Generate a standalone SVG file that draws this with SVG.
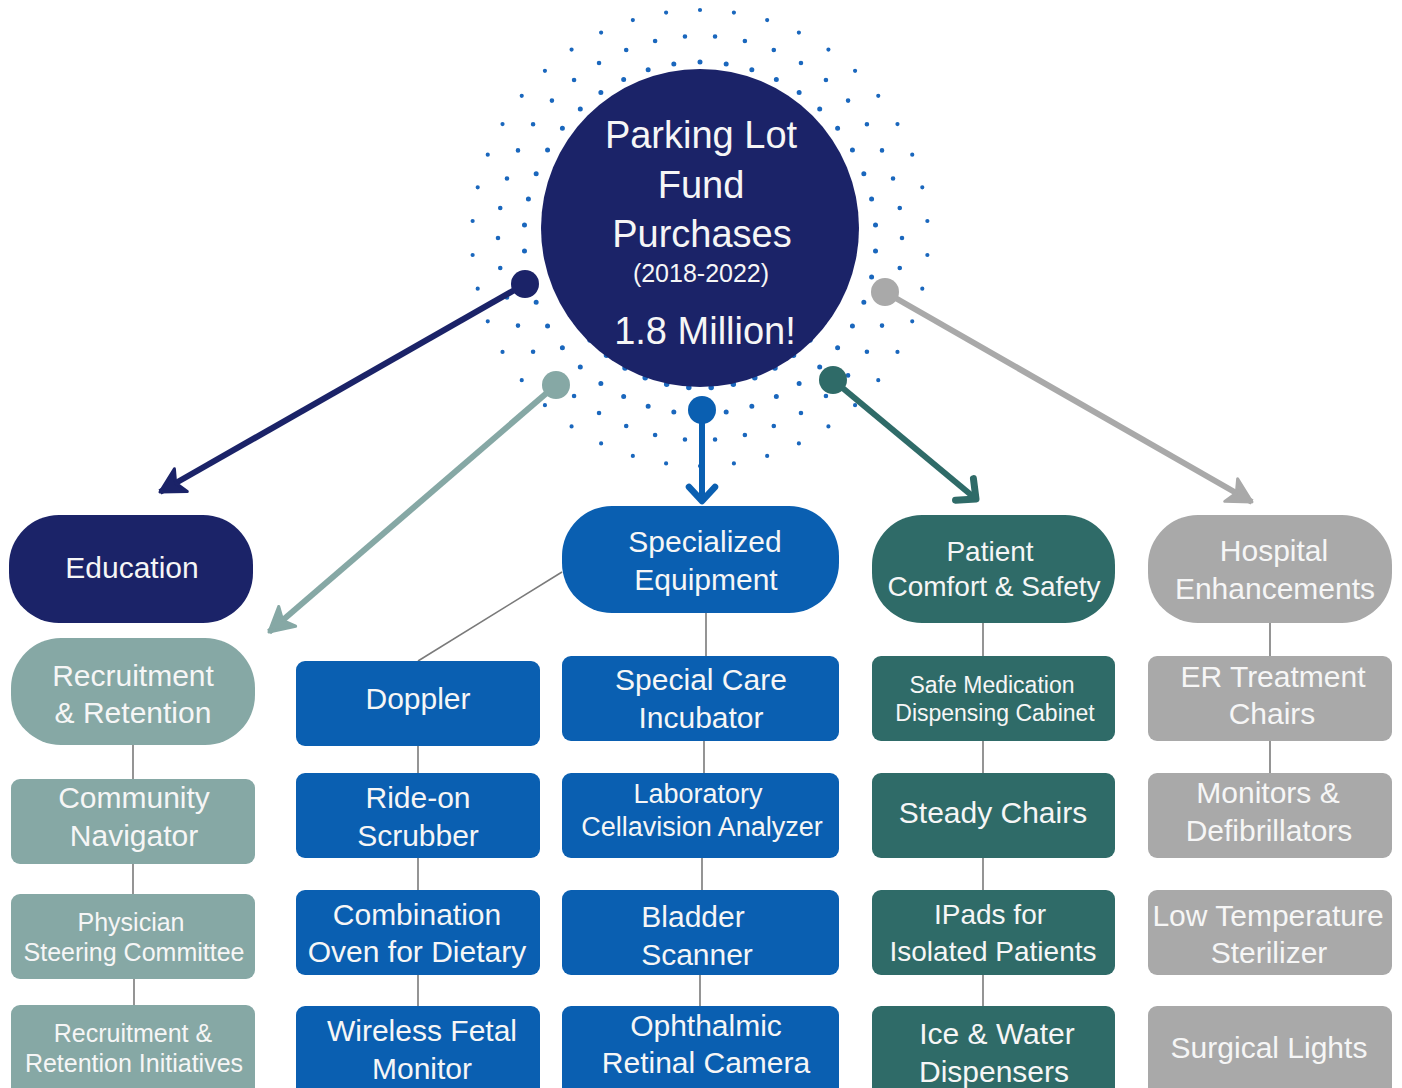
<svg xmlns="http://www.w3.org/2000/svg" width="1402" height="1088" viewBox="0 0 1402 1088">
<style>
text{font-family:"Liberation Sans",Arial,sans-serif;fill:#f6f6f6;text-anchor:middle}
.navy{fill:#1b2368}
.blue{fill:#0a5fb1}
.teal{fill:#2f6b68}
.lteal{fill:#86a8a5}
.gray{fill:#a9a9a9}
.conn line{stroke:#7a7a7a;stroke-width:1.6}
.ring{fill:none;stroke:#1a67bd;stroke-linecap:round;stroke-dasharray:0 1}
.t30{font-size:30px}
.t28{font-size:28px}
.t27{font-size:27px}
.t25{font-size:25px}
.t23{font-size:23px}
</style>
<defs>
<marker id="hNavy" markerUnits="userSpaceOnUse" orient="auto" overflow="visible" refX="0" refY="0" markerWidth="1" markerHeight="1"><path d="M0,0 L-24,-13 L-18,0 L-24,13 Z" fill="#1b2368" stroke="#1b2368" stroke-width="3" stroke-linejoin="round"/></marker>
<marker id="hLteal" markerUnits="userSpaceOnUse" orient="auto" overflow="visible" refX="0" refY="0" markerWidth="1" markerHeight="1"><path d="M0,0 L-24,-13 L-18,0 L-24,13 Z" fill="#86a8a5" stroke="#86a8a5" stroke-width="3" stroke-linejoin="round"/></marker>
<marker id="hGray" markerUnits="userSpaceOnUse" orient="auto" overflow="visible" refX="0" refY="0" markerWidth="1" markerHeight="1"><path d="M0,0 L-24,-13 L-18,0 L-24,13 Z" fill="#a9a9a9" stroke="#a9a9a9" stroke-width="3" stroke-linejoin="round"/></marker>
<marker id="hBlue" markerUnits="userSpaceOnUse" orient="auto" overflow="visible" refX="0" refY="0" markerWidth="1" markerHeight="1"><path d="M-14,-13 L0,0 L-14,13" fill="none" stroke="#0a5fb1" stroke-width="6.5" stroke-linecap="round" stroke-linejoin="round"/></marker>
<marker id="hTeal" markerUnits="userSpaceOnUse" orient="auto" overflow="visible" refX="0" refY="0" markerWidth="1" markerHeight="1"><path d="M-15,-14 L0,0 L-15,14" fill="none" stroke="#2f6b68" stroke-width="7" stroke-linecap="round" stroke-linejoin="round"/></marker>
</defs>
<rect width="1402" height="1088" fill="#ffffff"/>

<g id="halftone">
<circle class="ring" cx="700" cy="238" r="150" pathLength="42" stroke-width="5.5"/>
<circle class="ring" cx="700" cy="238" r="176" pathLength="42" stroke-width="5" stroke-dashoffset="0.5"/>
<circle class="ring" cx="700" cy="238" r="202" pathLength="42" stroke-width="4.6"/>
<circle class="ring" cx="700" cy="238" r="228" pathLength="42" stroke-width="4.2" stroke-dashoffset="0.5"/>
</g>

<g id="connectors">
<g class="conn">
<line x1="133" y1="745" x2="133" y2="779"/>
<line x1="133" y1="864" x2="133" y2="894"/>
<line x1="134" y1="979" x2="134" y2="1005"/>
<line x1="562" y1="572" x2="418" y2="661"/>
<line x1="418" y1="746" x2="418" y2="773"/>
<line x1="418" y1="858" x2="418" y2="890"/>
<line x1="418" y1="975" x2="418" y2="1006"/>
<line x1="706" y1="612" x2="706" y2="656"/>
<line x1="704" y1="741" x2="704" y2="773"/>
<line x1="702" y1="858" x2="702" y2="890"/>
<line x1="700" y1="975" x2="700" y2="1006"/>
<line x1="983" y1="622" x2="983" y2="656"/>
<line x1="983" y1="741" x2="983" y2="773"/>
<line x1="983" y1="858" x2="983" y2="890"/>
<line x1="983" y1="975" x2="983" y2="1006"/>
<line x1="1270" y1="622" x2="1270" y2="656"/>
<line x1="1270" y1="741" x2="1270" y2="773"/>
</g>
<line x1="525" y1="284" x2="160" y2="492" stroke="#1b2368" stroke-width="6" marker-end="url(#hNavy)"/>
<line x1="556" y1="385" x2="269" y2="632" stroke="#86a8a5" stroke-width="6" marker-end="url(#hLteal)"/>
<line x1="702" y1="410" x2="702" y2="501" stroke="#0a5fb1" stroke-width="6" marker-end="url(#hBlue)"/>
<line x1="833" y1="380" x2="976" y2="499" stroke="#2f6b68" stroke-width="6" marker-end="url(#hTeal)"/>
<line x1="885" y1="292" x2="1252" y2="502" stroke="#a9a9a9" stroke-width="6" marker-end="url(#hGray)"/>
</g>

<g id="root">
<circle class="navy" cx="700" cy="228" r="159"/>
<text x="701" y="148" style="font-size:38px">Parking Lot</text>
<text x="701" y="198" style="font-size:38px">Fund</text>
<text x="702" y="247" style="font-size:38px">Purchases</text>
<text x="701" y="282" style="font-size:25px">(2018-2022)</text>
<text x="705" y="344" style="font-size:38px">1.8 Million!</text>
</g>
<g id="dots-start">
<circle class="navy" cx="525" cy="284" r="14"/>
<circle class="lteal" cx="556" cy="385" r="14"/>
<circle class="blue" cx="702" cy="410" r="14"/>
<circle class="teal" cx="833" cy="380" r="14"/>
<circle class="gray" cx="885" cy="292" r="14"/>
</g>

<g id="education">
<rect class="navy" x="9" y="515" width="244" height="108" rx="50"/>
<text class="t30" x="132" y="578">Education</text>
</g>
<g id="recruitment-retention">
<rect class="lteal" x="11" y="638" width="244" height="107" rx="50"/>
<text class="t30" x="133" y="686">Recruitment</text>
<text class="t30" x="133" y="723">&amp; Retention</text>
</g>
<g id="community-navigator">
<rect class="lteal" x="11" y="779" width="244" height="85" rx="9"/>
<text class="t30" x="134" y="808">Community</text>
<text class="t30" x="134" y="846">Navigator</text>
</g>
<g id="physician-steering">
<rect class="lteal" x="11" y="894" width="244" height="85" rx="9"/>
<text class="t25" x="131" y="931">Physician</text>
<text class="t25" x="134" y="961">Steering Committee</text>
</g>
<g id="rr-initiatives">
<rect class="lteal" x="11" y="1005" width="244" height="95" rx="9"/>
<text class="t25" x="133" y="1042">Recruitment &amp;</text>
<text class="t25" x="134" y="1072">Retention Initiatives</text>
</g>

<g id="specialized-equipment">
<rect class="blue" x="562" y="506" width="277" height="107" rx="50"/>
<text class="t30" x="705" y="552">Specialized</text>
<text class="t30" x="706" y="590">Equipment</text>
</g>
<g id="doppler">
<rect class="blue" x="296" y="661" width="244" height="85" rx="9"/>
<text class="t30" x="418" y="709">Doppler</text>
</g>
<g id="ride-on-scrubber">
<rect class="blue" x="296" y="773" width="244" height="85" rx="9"/>
<text class="t30" x="418" y="808">Ride-on</text>
<text class="t30" x="418" y="846">Scrubber</text>
</g>
<g id="combination-oven">
<rect class="blue" x="296" y="890" width="244" height="85" rx="9"/>
<text class="t30" x="417" y="925">Combination</text>
<text class="t30" x="417" y="962">Oven for Dietary</text>
</g>
<g id="wireless-fetal">
<rect class="blue" x="296" y="1006" width="244" height="95" rx="9"/>
<text class="t30" x="422" y="1041">Wireless Fetal</text>
<text class="t30" x="422" y="1079">Monitor</text>
</g>
<g id="special-care">
<rect class="blue" x="562" y="656" width="277" height="85" rx="9"/>
<text class="t30" x="701" y="690">Special Care</text>
<text class="t30" x="701" y="728">Incubator</text>
</g>
<g id="laboratory">
<rect class="blue" x="562" y="773" width="277" height="85" rx="9"/>
<text class="t27" x="698" y="803">Laboratory</text>
<text class="t27" x="702" y="836">Cellavision Analyzer</text>
</g>
<g id="bladder">
<rect class="blue" x="562" y="890" width="277" height="85" rx="9"/>
<text class="t30" x="693" y="927">Bladder</text>
<text class="t30" x="697" y="965">Scanner</text>
</g>
<g id="ophthalmic">
<rect class="blue" x="562" y="1006" width="277" height="95" rx="9"/>
<text class="t30" x="706" y="1036">Ophthalmic</text>
<text class="t30" x="706" y="1073">Retinal Camera</text>
</g>

<g id="patient-comfort">
<rect class="teal" x="872" y="515" width="243" height="108" rx="50"/>
<text class="t28" x="990" y="561">Patient</text>
<text class="t28" x="994" y="596">Comfort &amp; Safety</text>
</g>
<g id="safe-medication">
<rect class="teal" x="872" y="656" width="243" height="85" rx="9"/>
<text class="t23" x="992" y="693">Safe Medication</text>
<text class="t23" x="995" y="721">Dispensing Cabinet</text>
</g>
<g id="steady-chairs">
<rect class="teal" x="872" y="773" width="243" height="85" rx="9"/>
<text class="t30" x="993" y="823">Steady Chairs</text>
</g>
<g id="ipads">
<rect class="teal" x="872" y="890" width="243" height="85" rx="9"/>
<text class="t28" x="990" y="924">IPads for</text>
<text class="t28" x="993" y="961">Isolated Patients</text>
</g>
<g id="ice-water">
<rect class="teal" x="872" y="1006" width="243" height="95" rx="9"/>
<text class="t30" x="997" y="1044">Ice &amp; Water</text>
<text class="t30" x="994" y="1082">Dispensers</text>
</g>

<g id="hospital-enhancements">
<rect class="gray" x="1148" y="515" width="244" height="108" rx="50"/>
<text class="t30" x="1274" y="561">Hospital</text>
<text class="t30" x="1275" y="599">Enhancements</text>
</g>
<g id="er-chairs">
<rect class="gray" x="1148" y="656" width="244" height="85" rx="9"/>
<text class="t30" x="1273" y="687">ER Treatment</text>
<text class="t30" x="1272" y="724">Chairs</text>
</g>
<g id="monitors">
<rect class="gray" x="1148" y="773" width="244" height="85" rx="9"/>
<text class="t30" x="1268" y="803">Monitors &amp;</text>
<text class="t30" x="1269" y="841">Defibrillators</text>
</g>
<g id="low-temp">
<rect class="gray" x="1148" y="890" width="244" height="85" rx="9"/>
<text class="t30" x="1268" y="926">Low Temperature</text>
<text class="t30" x="1269" y="963">Sterilizer</text>
</g>
<g id="surgical-lights">
<rect class="gray" x="1148" y="1006" width="244" height="95" rx="9"/>
<text class="t30" x="1269" y="1058">Surgical Lights</text>
</g>
</svg>
